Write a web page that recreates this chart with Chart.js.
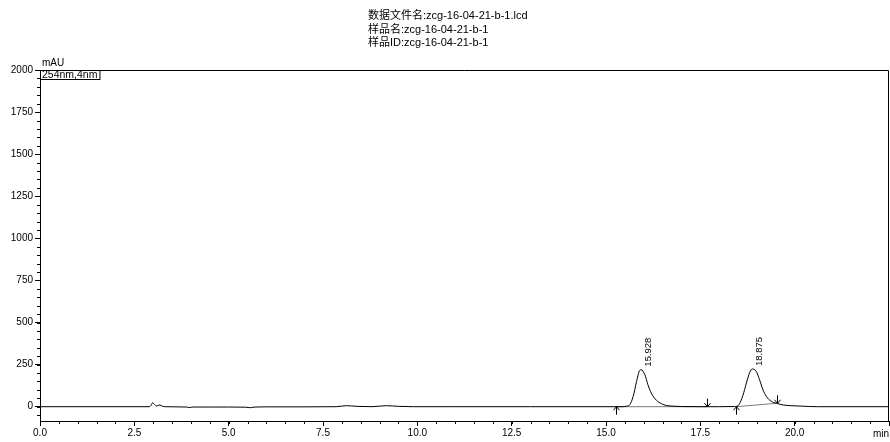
<!DOCTYPE html>
<html>
<head>
<meta charset="utf-8">
<script src="https://cdn.jsdelivr.net/npm/chart.js@4.4.1/dist/chart.umd.min.js"></script>
<style>
  html, body { margin: 0; padding: 0; background: #fff; }
  canvas { display: block; }
</style>
</head>
<body>
<canvas id="chrom" width="890" height="442"></canvas>
<script>
// Header text and channel
const headerLines = [
  '数据文件名:zcg-16-04-21-b-1.lcd',
  '样品名:zcg-16-04-21-b-1',
  '样品ID:zcg-16-04-21-b-1'
];
const channelLabel = '254nm,4nm';
const yUnit = 'mAU';
const xUnit = 'min';

// Detector trace: retention time (min) and absorbance (mAU)
const retentionTimes = [
  0, 2.9, 2.95, 2.985, 3.03, 3.08, 3.13, 3.18, 3.24, 3.32, 3.6, 3.88, 3.96, 4.05, 4.5,
  5.0, 5.45, 5.58, 5.7, 6.0, 7.0, 7.85, 8.12, 8.4, 8.8, 9.18, 9.5, 9.9, 11.0, 13.0,
  15.0, 15.4, 15.55, 15.63, 15.72, 15.81, 15.88, 15.928, 16.03, 16.11, 16.2, 16.34,
  16.47, 16.6, 16.8, 17.0, 17.5, 18.0, 18.4, 18.5, 18.54, 18.63, 18.72, 18.81, 18.875,
  18.98, 19.07, 19.16, 19.25, 19.38, 19.52, 19.7, 19.9, 20.2, 20.6, 22.5
];
const absorbance = [
  0, 0, 10, 24, 14, 4, 7, 10, 3, 0, -1, -2, -5, -2, -2,
  -2, -3, -6, -2, -1, -1, 0, 6, 2, 0, 6, 2, 0, 0, 0,
  0, 0, 3, 12, 61, 150, 210, 220, 190, 131, 81, 37,
  18, 7, 3, 1, 0, 0, 1, 6, 18, 68, 140, 204, 224,
  210, 160, 100, 61, 32, 20, 10, 6, 3, 0, 0
];

// Integrated peaks
const peakTimes = [15.928, 18.875];
const peakHeights = [220, 224];
const baselineStartTimes = [15.26, 18.45];
const baselineStartLevels = [0, 0];
const baselineEndTimes = [17.67, 19.52];
const baselineEndLevels = [0, 20];

// Axis ticks
const xTickValues = [0, 2.5, 5, 7.5, 10, 12.5, 15, 17.5, 20, 22.5];
const yTickValues = [0, 250, 500, 750, 1000, 1250, 1500, 1750, 2000];
const xMinorStep = 0.5;
const yMinorStep = 50;

const FONT = '"Liberation Sans", Arial, "Noto Sans CJK SC", sans-serif';
Chart.defaults.font.family = FONT;
Chart.defaults.color = '#000';

const trace = retentionTimes.map((t, i) => ({ x: t, y: absorbance[i] }));
const baselineSets = baselineStartTimes.map((t, i) => ({
  data: [{ x: t, y: baselineStartLevels[i] }, { x: baselineEndTimes[i], y: baselineEndLevels[i] }],
  borderColor: '#7a7a7a',
  borderWidth: 1,
  pointRadius: 0,
  tension: 0,
  order: 2
}));

const decor = {
  id: 'decor',
  afterDraw(chart) {
    const { ctx, chartArea: a, scales: { x, y } } = chart;
    ctx.save();
    ctx.strokeStyle = '#000';
    ctx.lineWidth = 1;

    // top and right frame
    ctx.beginPath();
    ctx.moveTo(a.left, a.top + 0.5);
    ctx.lineTo(a.right - 0.5, a.top + 0.5);
    ctx.lineTo(a.right - 0.5, a.bottom);
    ctx.stroke();

    // minor ticks
    ctx.beginPath();
    for (let v = x.min; v <= x.max + 1e-9; v += xMinorStep) {
      const px = Math.round(x.getPixelForValue(v)) + 0.5;
      ctx.moveTo(px, a.bottom);
      ctx.lineTo(px, a.bottom + 3);
    }
    for (let v = Math.ceil(y.min / yMinorStep) * yMinorStep; v <= y.max + 1e-9; v += yMinorStep) {
      const py = Math.round(y.getPixelForValue(v)) + 0.5;
      ctx.moveTo(a.left, py);
      ctx.lineTo(a.left - 3, py);
    }
    ctx.stroke();

    // integration markers
    const arrow = (px, py, dir) => {
      // dir = 1: arrow pointing up with tip at py; dir = -1: pointing down
      ctx.beginPath();
      ctx.moveTo(px, py);
      ctx.lineTo(px, py + dir * 8);
      ctx.moveTo(px - 3, py + dir * 3.5);
      ctx.lineTo(px, py);
      ctx.lineTo(px + 3, py + dir * 3.5);
      ctx.stroke();
    };
    baselineStartTimes.forEach((t, i) => {
      arrow(Math.round(x.getPixelForValue(t)) + 0.5, y.getPixelForValue(baselineStartLevels[i]), 1);
      arrow(Math.round(x.getPixelForValue(baselineEndTimes[i])) + 0.5, y.getPixelForValue(baselineEndLevels[i]), -1);
    });

    // peak retention time labels
    ctx.fillStyle = '#000';
    ctx.font = '9.5px ' + FONT;
    peakTimes.forEach((t, i) => {
      ctx.save();
      ctx.translate(x.getPixelForValue(t) + 7, y.getPixelForValue(peakHeights[i]) - 3);
      ctx.rotate(-Math.PI / 2);
      ctx.textAlign = 'left';
      ctx.textBaseline = 'middle';
      ctx.fillText(t.toFixed(3), 0, 0);
      ctx.restore();
    });

    // channel box
    ctx.font = '10.5px ' + FONT;
    ctx.textBaseline = 'middle';
    ctx.textAlign = 'left';
    const w = ctx.measureText(channelLabel).width;
    ctx.strokeRect(a.left + 0.5, a.top + 0.5, w + 4, 9);
    ctx.fillText(channelLabel, a.left + 2, a.top + 5.5);

    // axis units
    ctx.font = '10px ' + FONT;
    ctx.textBaseline = 'alphabetic';
    ctx.fillText(yUnit, a.left + 2, a.top - 4);
    ctx.textAlign = 'right';
    ctx.textBaseline = 'middle';
    ctx.fillText(xUnit, a.right, a.bottom + 13);

    // header
    ctx.font = '11px ' + FONT;
    ctx.textAlign = 'left';
    ctx.textBaseline = 'middle';
    const headerY = [16, 29.5, 43];
    headerLines.forEach((s, i) => ctx.fillText(s, 368, headerY[i]));
    ctx.restore();
  }
};

new Chart(document.getElementById('chrom'), {
  type: 'line',
  data: {
    datasets: [
      {
        data: trace,
        borderColor: '#000',
        borderWidth: 1,
        pointRadius: 0,
        cubicInterpolationMode: 'monotone',
        order: 1
      },
      ...baselineSets
    ]
  },
  options: {
    responsive: false,
    animation: false,
    events: [],
    layout: { padding: { left: 0, top: 70, right: 1, bottom: 0 } },
    plugins: { legend: { display: false }, tooltip: { enabled: false }, title: { display: false } },
    scales: {
      x: {
        type: 'linear',
        min: 0,
        max: 22.5,
        afterBuildTicks: s => { s.ticks = xTickValues.map(v => ({ value: v })); },
        afterFit: s => { s.height = 21; },
        border: { display: true, color: '#000', width: 1 },
        grid: { display: true, drawOnChartArea: false, drawTicks: true, tickLength: 5, color: '#000' },
        ticks: {
          autoSkip: false,
          maxRotation: 0,
          padding: 1,
          font: { size: 10 },
          callback: v => (v === 22.5 ? '' : Number(v).toFixed(1))
        }
      },
      y: {
        type: 'linear',
        min: -85,
        max: 2000,
        afterBuildTicks: s => { s.ticks = yTickValues.map(v => ({ value: v })); },
        afterFit: s => { s.width = 40; },
        border: { display: true, color: '#000', width: 1 },
        grid: { display: true, drawOnChartArea: false, drawTicks: true, tickLength: 5, color: '#000' },
        ticks: {
          autoSkip: false,
          padding: 2,
          font: { size: 10 },
          callback: v => String(v)
        }
      }
    }
  },
  plugins: [decor]
});
</script>
</body>
</html>
